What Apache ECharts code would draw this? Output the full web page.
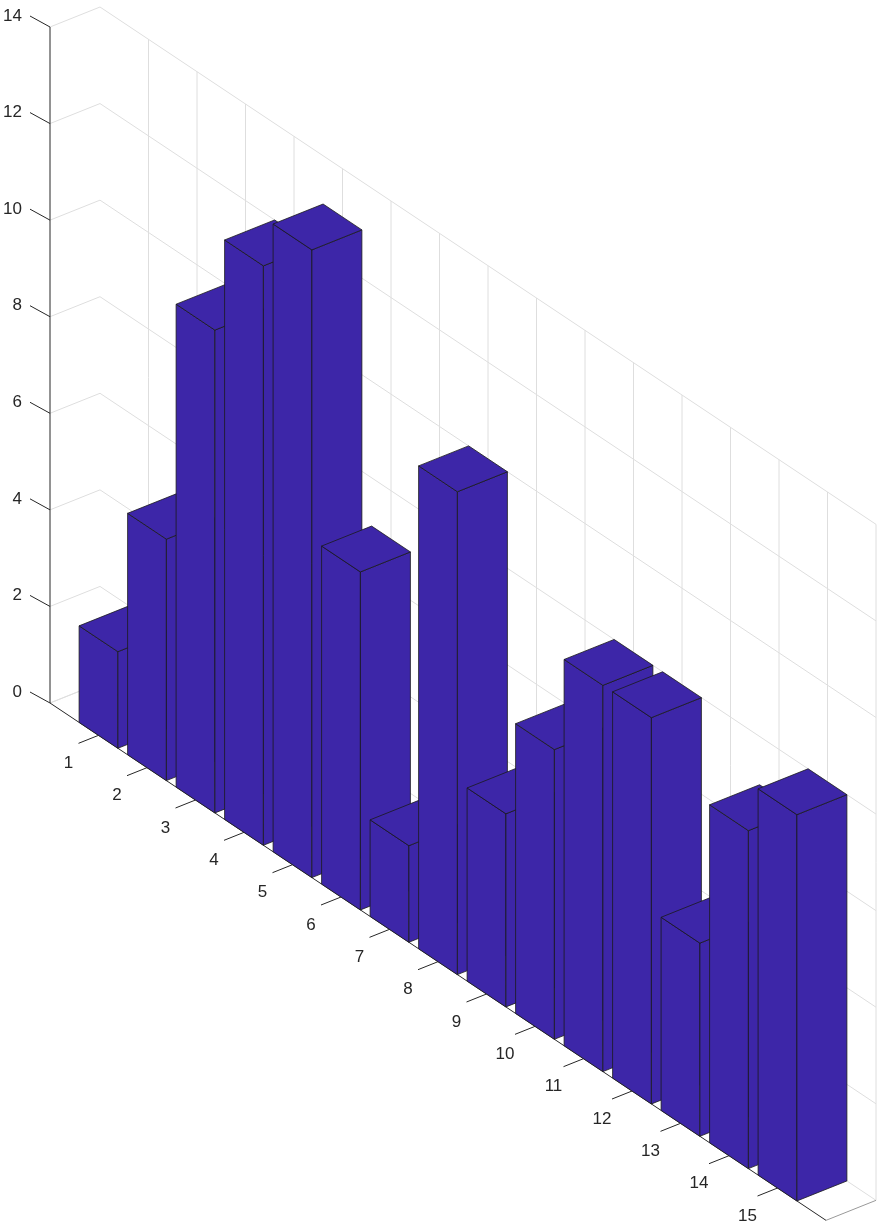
<!DOCTYPE html>
<html>
<head>
<meta charset="utf-8">
<script src="https://cdn.jsdelivr.net/npm/echarts@6/dist/echarts.min.js"></script>
<style>
html, body { margin: 0; padding: 0; background: #fff; }
#chart { width: 880px; height: 1226px; }
</style>
</head>
<body>
<div id="chart"></div>
<script>
// 数据
var categories = ['1', '2', '3', '4', '5', '6', '7', '8', '9', '10', '11', '12', '13', '14', '15'];
var values = [2, 5, 10, 12, 13, 7, 2, 10, 4, 6, 8, 8, 4, 7, 8];
var valueTicks = [0, 2, 4, 6, 8, 10, 12, 14];

// 斜投影参数 (像素)
var DX = 50, DY = 20, SLOPE = 0.6667;
var BAR_HALF = 0.4, BAR_DEPTH = 1;
var BAR_COLOR = '#3d26a8';
var GRID_COLOR = '#dedede';
var TEXT_COLOR = '#262626';

function P(api, u, d, v) {
    var c = api.coord([u, v]);
    var s = api.size([1, 0])[0];
    return [c[0] + d * DX, c[1] + u * s * SLOPE - d * DY];
}

function line(a, b, color, w) {
    return {
        type: 'line',
        shape: {x1: a[0], y1: a[1], x2: b[0], y2: b[1]},
        style: {stroke: color, lineWidth: w || 1}
    };
}

function poly(pts) {
    return {
        type: 'polygon',
        shape: {points: pts},
        style: {fill: BAR_COLOR, stroke: '#1a1a1a', lineWidth: 0.8}
    };
}

// 墙面网格和坐标轴
function renderWalls(params, api) {
    if (params.dataIndex !== 0) return;
    var ch = [];
    var umax = categories.length + 1;
    valueTicks.forEach(function (v) {
        ch.push(line(P(api, 0, 0, v), P(api, 0, 1, v), GRID_COLOR));
        ch.push(line(P(api, 0, 1, v), P(api, umax, 1, v), GRID_COLOR));
        var t = P(api, 0, 0, v);
        ch.push(line(t, [t[0] - 20, t[1] - 11], TEXT_COLOR));
        ch.push({
            type: 'text',
            style: {text: String(v), x: t[0] - 28, y: t[1] - 11, align: 'right', verticalAlign: 'middle',
                fill: TEXT_COLOR, font: '17px Arial, "Liberation Sans", sans-serif'}
        });
    });
    var vmax = valueTicks[valueTicks.length - 1];
    for (var u = 1; u <= umax; u++) {
        ch.push(line(P(api, u, 1, 0), P(api, u, 1, vmax), GRID_COLOR));
    }
    for (var k = 0; k <= umax; k++) {
        ch.push(line(P(api, k, 0, 0), P(api, k, 1, 0), k === umax ? '#999' : GRID_COLOR));
    }
    // 坐标轴
    ch.push(line(P(api, 0, 0, 0), P(api, 0, 0, vmax), '#262626'));
    ch.push(line(P(api, 0, 0, 0), P(api, umax, 0, 0), '#262626'));
    categories.forEach(function (c, i) {
        var p = P(api, i + 1, 0, 0);
        ch.push(line(p, [p[0] - 20, p[1] + 8], TEXT_COLOR));
        ch.push({
            type: 'text',
            style: {text: c, x: p[0] - 30, y: p[1] + 28, align: 'center', verticalAlign: 'middle',
                fill: TEXT_COLOR, font: '17px Arial, "Liberation Sans", sans-serif'}
        });
    });
    return {type: 'group', children: ch};
}

// 3D 柱子
function renderBar(params, api) {
    var u = api.value(0), h = api.value(1);
    var l = u - BAR_HALF, r = u + BAR_HALF, d = BAR_DEPTH;
    return {
        type: 'group',
        children: [
            poly([P(api, l, 0, 0), P(api, r, 0, 0), P(api, r, 0, h), P(api, l, 0, h)]),
            poly([P(api, r, 0, 0), P(api, r, d, 0), P(api, r, d, h), P(api, r, 0, h)]),
            poly([P(api, l, 0, h), P(api, r, 0, h), P(api, r, d, h), P(api, l, d, h)])
        ]
    };
}

var dom = document.getElementById('chart');
var myChart = echarts.init(dom);
var barData = values.map(function (v, i) { return [i + 1, v]; });

var option = {
    animation: false,
    grid: {left: 50, width: 776, top: 27, height: 676},
    xAxis: {type: 'value', min: 0, max: 16, show: false},
    yAxis: {type: 'value', min: 0, max: 14, show: false},
    series: [
        {type: 'custom', renderItem: renderWalls, data: [[0, 0]], silent: true, clip: false},
        {type: 'custom', renderItem: renderBar, data: barData, clip: false}
    ]
};
myChart.setOption(option);
</script>
</body>
</html>
